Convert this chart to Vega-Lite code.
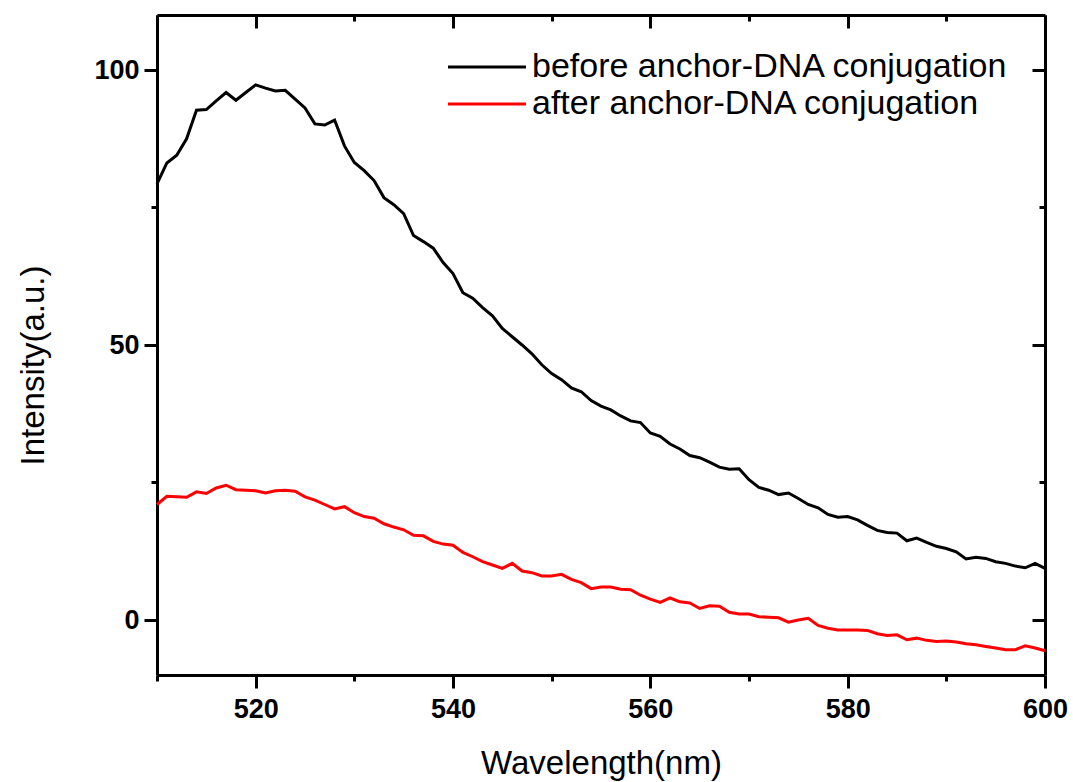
{
  "$schema": "https://vega.github.io/schema/vega-lite/v6.json",
  "width": 888,
  "height": 660,
  "autosize": {"type": "none"},
  "padding": {"left": 157, "top": 15, "right": 28, "bottom": 107},
  "background": "white",
  "config": {
    "view": {"stroke": null},
    "font": "Liberation Sans",
    "axis": {
      "grid": false,
      "domainColor": "black",
      "domainWidth": 3,
      "tickColor": "black",
      "tickWidth": 3,
      "labelFont": "Liberation Sans",
      "labelFontWeight": "bold",
      "labelFontSize": 27,
      "labelColor": "black",
      "titleFont": "Liberation Sans",
      "titleFontWeight": "normal",
      "titleFontSize": 33,
      "titleColor": "black"
    },
    "legend": {
      "orient": "none",
      "legendX": 287,
      "legendY": 35,
      "symbolType": "M-4,0H4",
      "symbolSize": 380,
      "symbolStrokeWidth": 3,
      "symbolOffset": 26,
      "labelFont": "Liberation Sans",
      "labelFontSize": 34,
      "labelColor": "black",
      "labelLimit": 700,
      "labelOffset": 28,
      "rowPadding": 3,
      "title": null
    }
  },
  "data": {
    "values": [
      {"w": 510, "v": 79.3, "series": "before anchor-DNA conjugation"},
      {"w": 511, "v": 83.1, "series": "before anchor-DNA conjugation"},
      {"w": 512, "v": 84.5, "series": "before anchor-DNA conjugation"},
      {"w": 513, "v": 87.5, "series": "before anchor-DNA conjugation"},
      {"w": 514, "v": 92.7, "series": "before anchor-DNA conjugation"},
      {"w": 515, "v": 92.8, "series": "before anchor-DNA conjugation"},
      {"w": 516, "v": 94.4, "series": "before anchor-DNA conjugation"},
      {"w": 517, "v": 95.9, "series": "before anchor-DNA conjugation"},
      {"w": 518, "v": 94.5, "series": "before anchor-DNA conjugation"},
      {"w": 519, "v": 95.9, "series": "before anchor-DNA conjugation"},
      {"w": 520, "v": 97.3, "series": "before anchor-DNA conjugation"},
      {"w": 521, "v": 96.7, "series": "before anchor-DNA conjugation"},
      {"w": 522, "v": 96.2, "series": "before anchor-DNA conjugation"},
      {"w": 523, "v": 96.3, "series": "before anchor-DNA conjugation"},
      {"w": 524, "v": 94.7, "series": "before anchor-DNA conjugation"},
      {"w": 525, "v": 93.1, "series": "before anchor-DNA conjugation"},
      {"w": 526, "v": 90.2, "series": "before anchor-DNA conjugation"},
      {"w": 527, "v": 90.0, "series": "before anchor-DNA conjugation"},
      {"w": 528, "v": 90.9, "series": "before anchor-DNA conjugation"},
      {"w": 529, "v": 86.2, "series": "before anchor-DNA conjugation"},
      {"w": 530, "v": 83.2, "series": "before anchor-DNA conjugation"},
      {"w": 531, "v": 81.7, "series": "before anchor-DNA conjugation"},
      {"w": 532, "v": 79.9, "series": "before anchor-DNA conjugation"},
      {"w": 533, "v": 76.8, "series": "before anchor-DNA conjugation"},
      {"w": 534, "v": 75.5, "series": "before anchor-DNA conjugation"},
      {"w": 535, "v": 73.9, "series": "before anchor-DNA conjugation"},
      {"w": 536, "v": 69.9, "series": "before anchor-DNA conjugation"},
      {"w": 537, "v": 68.8, "series": "before anchor-DNA conjugation"},
      {"w": 538, "v": 67.6, "series": "before anchor-DNA conjugation"},
      {"w": 539, "v": 65.0, "series": "before anchor-DNA conjugation"},
      {"w": 540, "v": 63.0, "series": "before anchor-DNA conjugation"},
      {"w": 541, "v": 59.5, "series": "before anchor-DNA conjugation"},
      {"w": 542, "v": 58.5, "series": "before anchor-DNA conjugation"},
      {"w": 543, "v": 56.8, "series": "before anchor-DNA conjugation"},
      {"w": 544, "v": 55.3, "series": "before anchor-DNA conjugation"},
      {"w": 545, "v": 53.0, "series": "before anchor-DNA conjugation"},
      {"w": 546, "v": 51.5, "series": "before anchor-DNA conjugation"},
      {"w": 547, "v": 50.0, "series": "before anchor-DNA conjugation"},
      {"w": 548, "v": 48.4, "series": "before anchor-DNA conjugation"},
      {"w": 549, "v": 46.4, "series": "before anchor-DNA conjugation"},
      {"w": 550, "v": 44.8, "series": "before anchor-DNA conjugation"},
      {"w": 551, "v": 43.7, "series": "before anchor-DNA conjugation"},
      {"w": 552, "v": 42.2, "series": "before anchor-DNA conjugation"},
      {"w": 553, "v": 41.5, "series": "before anchor-DNA conjugation"},
      {"w": 554, "v": 39.9, "series": "before anchor-DNA conjugation"},
      {"w": 555, "v": 38.9, "series": "before anchor-DNA conjugation"},
      {"w": 556, "v": 38.2, "series": "before anchor-DNA conjugation"},
      {"w": 557, "v": 37.1, "series": "before anchor-DNA conjugation"},
      {"w": 558, "v": 36.2, "series": "before anchor-DNA conjugation"},
      {"w": 559, "v": 35.9, "series": "before anchor-DNA conjugation"},
      {"w": 560, "v": 34.0, "series": "before anchor-DNA conjugation"},
      {"w": 561, "v": 33.4, "series": "before anchor-DNA conjugation"},
      {"w": 562, "v": 32.0, "series": "before anchor-DNA conjugation"},
      {"w": 563, "v": 31.1, "series": "before anchor-DNA conjugation"},
      {"w": 564, "v": 29.9, "series": "before anchor-DNA conjugation"},
      {"w": 565, "v": 29.5, "series": "before anchor-DNA conjugation"},
      {"w": 566, "v": 28.7, "series": "before anchor-DNA conjugation"},
      {"w": 567, "v": 27.8, "series": "before anchor-DNA conjugation"},
      {"w": 568, "v": 27.4, "series": "before anchor-DNA conjugation"},
      {"w": 569, "v": 27.5, "series": "before anchor-DNA conjugation"},
      {"w": 570, "v": 25.5, "series": "before anchor-DNA conjugation"},
      {"w": 571, "v": 24.1, "series": "before anchor-DNA conjugation"},
      {"w": 572, "v": 23.6, "series": "before anchor-DNA conjugation"},
      {"w": 573, "v": 22.8, "series": "before anchor-DNA conjugation"},
      {"w": 574, "v": 23.1, "series": "before anchor-DNA conjugation"},
      {"w": 575, "v": 22.1, "series": "before anchor-DNA conjugation"},
      {"w": 576, "v": 21.0, "series": "before anchor-DNA conjugation"},
      {"w": 577, "v": 20.4, "series": "before anchor-DNA conjugation"},
      {"w": 578, "v": 19.2, "series": "before anchor-DNA conjugation"},
      {"w": 579, "v": 18.7, "series": "before anchor-DNA conjugation"},
      {"w": 580, "v": 18.8, "series": "before anchor-DNA conjugation"},
      {"w": 581, "v": 18.2, "series": "before anchor-DNA conjugation"},
      {"w": 582, "v": 17.2, "series": "before anchor-DNA conjugation"},
      {"w": 583, "v": 16.3, "series": "before anchor-DNA conjugation"},
      {"w": 584, "v": 15.9, "series": "before anchor-DNA conjugation"},
      {"w": 585, "v": 15.8, "series": "before anchor-DNA conjugation"},
      {"w": 586, "v": 14.4, "series": "before anchor-DNA conjugation"},
      {"w": 587, "v": 14.9, "series": "before anchor-DNA conjugation"},
      {"w": 588, "v": 14.1, "series": "before anchor-DNA conjugation"},
      {"w": 589, "v": 13.4, "series": "before anchor-DNA conjugation"},
      {"w": 590, "v": 13.0, "series": "before anchor-DNA conjugation"},
      {"w": 591, "v": 12.4, "series": "before anchor-DNA conjugation"},
      {"w": 592, "v": 11.1, "series": "before anchor-DNA conjugation"},
      {"w": 593, "v": 11.4, "series": "before anchor-DNA conjugation"},
      {"w": 594, "v": 11.2, "series": "before anchor-DNA conjugation"},
      {"w": 595, "v": 10.6, "series": "before anchor-DNA conjugation"},
      {"w": 596, "v": 10.3, "series": "before anchor-DNA conjugation"},
      {"w": 597, "v": 9.8, "series": "before anchor-DNA conjugation"},
      {"w": 598, "v": 9.5, "series": "before anchor-DNA conjugation"},
      {"w": 599, "v": 10.3, "series": "before anchor-DNA conjugation"},
      {"w": 600, "v": 9.4, "series": "before anchor-DNA conjugation"},
      {"w": 510, "v": 21.0, "series": "after anchor-DNA conjugation"},
      {"w": 511, "v": 22.5, "series": "after anchor-DNA conjugation"},
      {"w": 512, "v": 22.4, "series": "after anchor-DNA conjugation"},
      {"w": 513, "v": 22.3, "series": "after anchor-DNA conjugation"},
      {"w": 514, "v": 23.3, "series": "after anchor-DNA conjugation"},
      {"w": 515, "v": 23.0, "series": "after anchor-DNA conjugation"},
      {"w": 516, "v": 24.0, "series": "after anchor-DNA conjugation"},
      {"w": 517, "v": 24.5, "series": "after anchor-DNA conjugation"},
      {"w": 518, "v": 23.7, "series": "after anchor-DNA conjugation"},
      {"w": 519, "v": 23.6, "series": "after anchor-DNA conjugation"},
      {"w": 520, "v": 23.5, "series": "after anchor-DNA conjugation"},
      {"w": 521, "v": 23.1, "series": "after anchor-DNA conjugation"},
      {"w": 522, "v": 23.5, "series": "after anchor-DNA conjugation"},
      {"w": 523, "v": 23.6, "series": "after anchor-DNA conjugation"},
      {"w": 524, "v": 23.4, "series": "after anchor-DNA conjugation"},
      {"w": 525, "v": 22.4, "series": "after anchor-DNA conjugation"},
      {"w": 526, "v": 21.8, "series": "after anchor-DNA conjugation"},
      {"w": 527, "v": 21.0, "series": "after anchor-DNA conjugation"},
      {"w": 528, "v": 20.2, "series": "after anchor-DNA conjugation"},
      {"w": 529, "v": 20.6, "series": "after anchor-DNA conjugation"},
      {"w": 530, "v": 19.5, "series": "after anchor-DNA conjugation"},
      {"w": 531, "v": 18.8, "series": "after anchor-DNA conjugation"},
      {"w": 532, "v": 18.5, "series": "after anchor-DNA conjugation"},
      {"w": 533, "v": 17.5, "series": "after anchor-DNA conjugation"},
      {"w": 534, "v": 16.9, "series": "after anchor-DNA conjugation"},
      {"w": 535, "v": 16.4, "series": "after anchor-DNA conjugation"},
      {"w": 536, "v": 15.4, "series": "after anchor-DNA conjugation"},
      {"w": 537, "v": 15.3, "series": "after anchor-DNA conjugation"},
      {"w": 538, "v": 14.3, "series": "after anchor-DNA conjugation"},
      {"w": 539, "v": 13.8, "series": "after anchor-DNA conjugation"},
      {"w": 540, "v": 13.6, "series": "after anchor-DNA conjugation"},
      {"w": 541, "v": 12.3, "series": "after anchor-DNA conjugation"},
      {"w": 542, "v": 11.5, "series": "after anchor-DNA conjugation"},
      {"w": 543, "v": 10.6, "series": "after anchor-DNA conjugation"},
      {"w": 544, "v": 10.0, "series": "after anchor-DNA conjugation"},
      {"w": 545, "v": 9.4, "series": "after anchor-DNA conjugation"},
      {"w": 546, "v": 10.3, "series": "after anchor-DNA conjugation"},
      {"w": 547, "v": 8.9, "series": "after anchor-DNA conjugation"},
      {"w": 548, "v": 8.6, "series": "after anchor-DNA conjugation"},
      {"w": 549, "v": 8.0, "series": "after anchor-DNA conjugation"},
      {"w": 550, "v": 8.0, "series": "after anchor-DNA conjugation"},
      {"w": 551, "v": 8.3, "series": "after anchor-DNA conjugation"},
      {"w": 552, "v": 7.4, "series": "after anchor-DNA conjugation"},
      {"w": 553, "v": 6.8, "series": "after anchor-DNA conjugation"},
      {"w": 554, "v": 5.7, "series": "after anchor-DNA conjugation"},
      {"w": 555, "v": 6.0, "series": "after anchor-DNA conjugation"},
      {"w": 556, "v": 6.0, "series": "after anchor-DNA conjugation"},
      {"w": 557, "v": 5.6, "series": "after anchor-DNA conjugation"},
      {"w": 558, "v": 5.5, "series": "after anchor-DNA conjugation"},
      {"w": 559, "v": 4.5, "series": "after anchor-DNA conjugation"},
      {"w": 560, "v": 3.8, "series": "after anchor-DNA conjugation"},
      {"w": 561, "v": 3.2, "series": "after anchor-DNA conjugation"},
      {"w": 562, "v": 4.0, "series": "after anchor-DNA conjugation"},
      {"w": 563, "v": 3.3, "series": "after anchor-DNA conjugation"},
      {"w": 564, "v": 3.1, "series": "after anchor-DNA conjugation"},
      {"w": 565, "v": 2.1, "series": "after anchor-DNA conjugation"},
      {"w": 566, "v": 2.6, "series": "after anchor-DNA conjugation"},
      {"w": 567, "v": 2.5, "series": "after anchor-DNA conjugation"},
      {"w": 568, "v": 1.4, "series": "after anchor-DNA conjugation"},
      {"w": 569, "v": 1.1, "series": "after anchor-DNA conjugation"},
      {"w": 570, "v": 1.1, "series": "after anchor-DNA conjugation"},
      {"w": 571, "v": 0.6, "series": "after anchor-DNA conjugation"},
      {"w": 572, "v": 0.5, "series": "after anchor-DNA conjugation"},
      {"w": 573, "v": 0.4, "series": "after anchor-DNA conjugation"},
      {"w": 574, "v": -0.4, "series": "after anchor-DNA conjugation"},
      {"w": 575, "v": 0.0, "series": "after anchor-DNA conjugation"},
      {"w": 576, "v": 0.3, "series": "after anchor-DNA conjugation"},
      {"w": 577, "v": -1.0, "series": "after anchor-DNA conjugation"},
      {"w": 578, "v": -1.5, "series": "after anchor-DNA conjugation"},
      {"w": 579, "v": -1.8, "series": "after anchor-DNA conjugation"},
      {"w": 580, "v": -1.8, "series": "after anchor-DNA conjugation"},
      {"w": 581, "v": -1.8, "series": "after anchor-DNA conjugation"},
      {"w": 582, "v": -1.9, "series": "after anchor-DNA conjugation"},
      {"w": 583, "v": -2.5, "series": "after anchor-DNA conjugation"},
      {"w": 584, "v": -2.8, "series": "after anchor-DNA conjugation"},
      {"w": 585, "v": -2.7, "series": "after anchor-DNA conjugation"},
      {"w": 586, "v": -3.6, "series": "after anchor-DNA conjugation"},
      {"w": 587, "v": -3.3, "series": "after anchor-DNA conjugation"},
      {"w": 588, "v": -3.7, "series": "after anchor-DNA conjugation"},
      {"w": 589, "v": -3.9, "series": "after anchor-DNA conjugation"},
      {"w": 590, "v": -3.8, "series": "after anchor-DNA conjugation"},
      {"w": 591, "v": -4.0, "series": "after anchor-DNA conjugation"},
      {"w": 592, "v": -4.3, "series": "after anchor-DNA conjugation"},
      {"w": 593, "v": -4.5, "series": "after anchor-DNA conjugation"},
      {"w": 594, "v": -4.8, "series": "after anchor-DNA conjugation"},
      {"w": 595, "v": -5.1, "series": "after anchor-DNA conjugation"},
      {"w": 596, "v": -5.4, "series": "after anchor-DNA conjugation"},
      {"w": 597, "v": -5.4, "series": "after anchor-DNA conjugation"},
      {"w": 598, "v": -4.7, "series": "after anchor-DNA conjugation"},
      {"w": 599, "v": -5.1, "series": "after anchor-DNA conjugation"},
      {"w": 600, "v": -5.6, "series": "after anchor-DNA conjugation"}
    ]
  },
  "layer": [
    {
      "mark": {"type": "line", "strokeWidth": 3, "interpolate": "linear"},
      "encoding": {
        "x": {
          "field": "w",
          "type": "quantitative",
          "scale": {"domain": [510, 600], "nice": false, "zero": false},
          "axis": {
            "orient": "bottom",
            "title": "Wavelength(nm)",
            "titleX": 444,
            "titleY": 88,
            "titleBaseline": "middle",
            "titleFontSize": 33,
            "values": [510, 520, 530, 540, 550, 560, 570, 580, 590, 600],
            "labelExpr": "datum.value % 20 == 0 ? datum.label : ''",
            "tickSize": {"condition": {"test": "datum.value % 20 == 0", "value": 13}, "value": 6},
            "tickWidth": 3,
            "domainWidth": 3,
            "labelFontSize": 27,
            "labelFontWeight": "bold",
            "labelPadding": 8,
            "labelFlush": false,
            "labelOverlap": false
          }
        },
        "y": {
          "field": "v",
          "type": "quantitative",
          "scale": {"domain": [-10, 110], "nice": false, "zero": false},
          "axis": {
            "orient": "left",
            "title": "Intensity(a.u.)",
            "titleX": -124,
            "titleY": 350,
            "titleAngle": -90,
            "titleBaseline": "middle",
            "titleAlign": "center",
            "titleFontSize": 33,
            "values": [0, 25, 50, 75, 100],
            "labelExpr": "datum.value % 50 == 0 ? datum.label : ''",
            "tickSize": {"condition": {"test": "datum.value % 50 == 0", "value": 13}, "value": 6},
            "tickWidth": 3,
            "domainWidth": 3,
            "labelFontSize": 27,
            "labelFontWeight": "bold",
            "labelPadding": 5,
            "labelOverlap": false
          }
        },
        "color": {
          "field": "series",
          "type": "nominal",
          "scale": {
            "domain": ["before anchor-DNA conjugation", "after anchor-DNA conjugation"],
            "range": ["#000000", "#ff0000"]
          },
          "legend": {"title": null}
        }
      }
    },
    {
      "mark": {"type": "line", "strokeOpacity": 0},
      "encoding": {
        "x": {
          "field": "w",
          "type": "quantitative",
          "axis": {
            "orient": "top",
            "title": null,
            "labels": false,
            "values": [510, 520, 530, 540, 550, 560, 570, 580, 590, 600],
            "tickSize": {"condition": {"test": "datum.value % 20 == 0", "value": -13}, "value": -6},
            "tickWidth": 3,
            "domainWidth": 3
          }
        },
        "y": {
          "field": "v",
          "type": "quantitative",
          "axis": {
            "orient": "right",
            "title": null,
            "labels": false,
            "values": [0, 25, 50, 75, 100],
            "tickSize": {"condition": {"test": "datum.value % 50 == 0", "value": -13}, "value": -6},
            "tickWidth": 3,
            "domainWidth": 3
          }
        },
        "detail": {"field": "series", "type": "nominal"}
      }
    }
  ],
  "resolve": {"axis": {"x": "independent", "y": "independent"}}
}
